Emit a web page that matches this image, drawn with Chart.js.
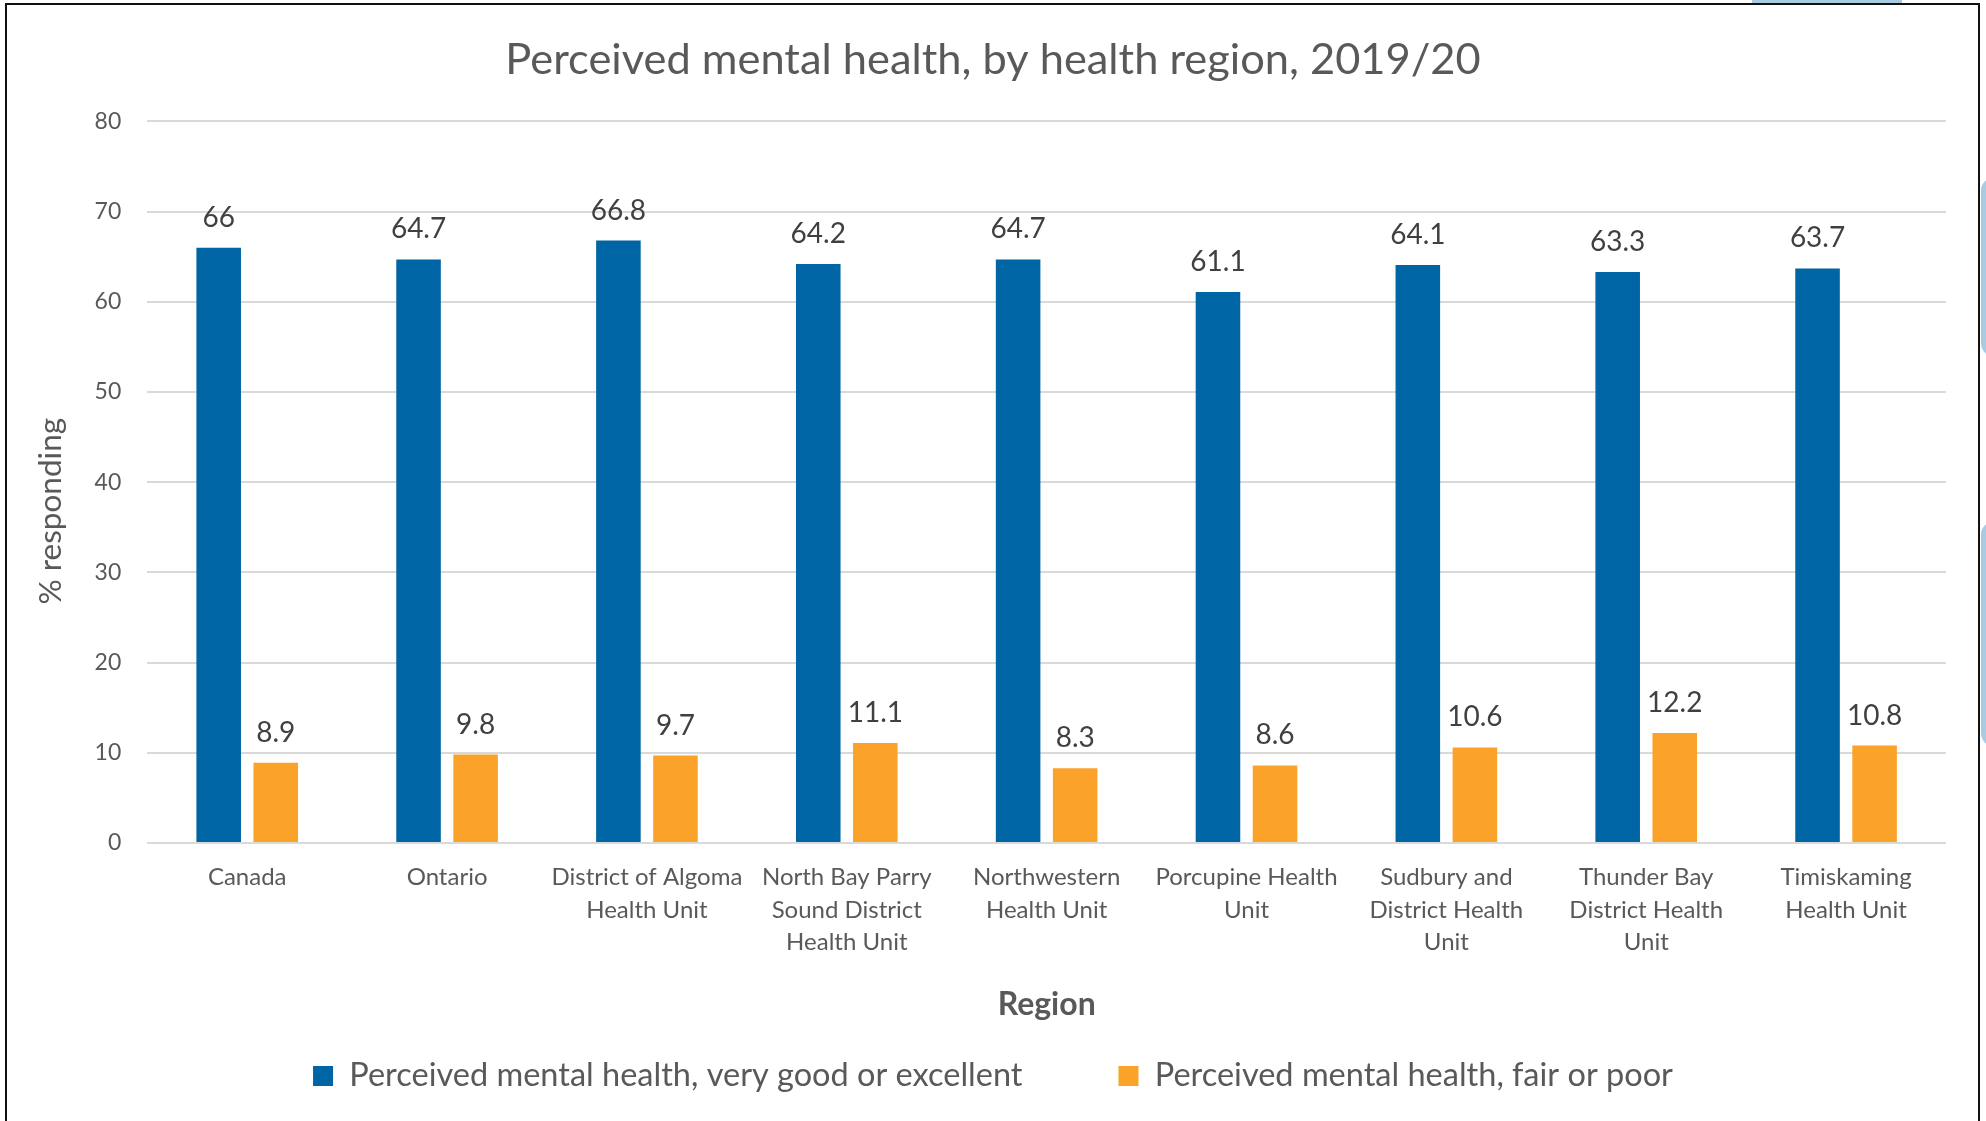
<!DOCTYPE html>
<html>
<head>
<meta charset="utf-8">
<script src="https://cdn.jsdelivr.net/npm/chart.js@4.4.1/dist/chart.umd.min.js"></script>
<style>
  html, body { margin: 0; padding: 0; background: #ffffff; overflow: hidden; }
  #wrap { position: relative; width: 1986px; height: 1121px; }
  #c { position: absolute; left: 0; top: 0; }
  .frame { position: absolute; left: 5px; top: 3px; width: 1971px; height: 1200px; border: 2px solid #111; pointer-events: none; }
  .deco { position: absolute; background: #A9CBE2; }
</style>
</head>
<body>
<div id="wrap">
  <div class="deco" style="left:1752px; top:0; width:150px; height:5px;"></div>
  <div class="deco" style="left:1981px; top:177px; width:20px; height:180px; border-radius:14px 0 0 14px;"></div>
  <div class="deco" style="left:1981px; top:521px; width:20px; height:226px; border-radius:14px 0 0 14px;"></div>
  <canvas id="c" width="1986" height="1121"></canvas>
  <div class="frame"></div>
</div>
<script>
const chartTitle = 'Perceived mental health, by health region, 2019/20';
const yAxisTitle = '% responding';
const xAxisTitle = 'Region';
const categories = [
  ['Canada'],
  ['Ontario'],
  ['District of Algoma', 'Health Unit'],
  ['North Bay Parry', 'Sound District', 'Health Unit'],
  ['Northwestern', 'Health Unit'],
  ['Porcupine Health', 'Unit'],
  ['Sudbury and', 'District Health', 'Unit'],
  ['Thunder Bay', 'District Health', 'Unit'],
  ['Timiskaming', 'Health Unit']
];
const seriesNames = [
  'Perceived mental health, very good or excellent',
  'Perceived mental health, fair or poor'
];
const veryGoodExcellent = [66, 64.7, 66.8, 64.2, 64.7, 61.1, 64.1, 63.3, 63.7];
const fairPoor = [8.9, 9.8, 9.7, 11.1, 8.3, 8.6, 10.6, 12.2, 10.8];
const yTicks = [0, 10, 20, 30, 40, 50, 60, 70, 80];

const FONT = 'Lato';
const GREY = '#595959';

const valueLabels = {
  id: 'valueLabels',
  afterDatasetsDraw(chart) {
    const ctx = chart.ctx;
    ctx.save();
    ctx.font = '28px ' + FONT;
    ctx.fillStyle = '#404040';
    ctx.textAlign = 'center';
    ctx.textBaseline = 'alphabetic';
    chart.data.datasets.forEach((ds, di) => {
      const meta = chart.getDatasetMeta(di);
      meta.data.forEach((bar, i) => {
        ctx.fillText(String(ds.data[i]), bar.x, bar.y - 21);
      });
    });
    ctx.restore();
  }
};

// y-axis title, placed as in the reference (slightly below the axis middle)
const yTitle = {
  id: 'yTitle',
  afterDraw(chart) {
    const ctx = chart.ctx;
    const ys = chart.scales.y;
    const ca = chart.chartArea;
    ctx.save();
    ctx.font = '31.5px ' + FONT;
    ctx.fillStyle = GREY;
    ctx.textAlign = 'center';
    ctx.textBaseline = 'middle';
    ctx.translate(ys.left + 51, (ca.top + ca.bottom) / 2 + 29);
    ctx.rotate(-Math.PI / 2);
    ctx.fillText(yAxisTitle, 0, 0);
    ctx.restore();
  }
};

function draw() {
  Chart.defaults.font.family = FONT;
  Chart.defaults.color = GREY;
  new Chart(document.getElementById('c'), {
    type: 'bar',
    data: {
      labels: categories,
      datasets: [
        { label: seriesNames[0], data: veryGoodExcellent, backgroundColor: '#0065A4', borderWidth: 0,
          categoryPercentage: 0.571, barPercentage: 0.781 },
        { label: seriesNames[1], data: fairPoor, backgroundColor: '#FAA229', borderWidth: 0,
          categoryPercentage: 0.571, barPercentage: 0.781 }
      ]
    },
    options: {
      responsive: false,
      animation: false,
      devicePixelRatio: 1,
      layout: { padding: { left: 0, right: 0, top: 0, bottom: 18.75 } },
      plugins: {
        title: {
          display: true, text: chartTitle, color: GREY,
          font: { size: 43.4, weight: 'normal', family: FONT, lineHeight: 1.2 },
          padding: { top: 34, bottom: 35.4 }
        },
        legend: {
          position: 'bottom',
          labels: {
            color: GREY, font: { size: 32.5, family: FONT },
            boxWidth: 20, boxHeight: 20, padding: 96
          }
        },
        tooltip: { enabled: false }
      },
      scales: {
        x: {
          grid: { display: false },
          border: { display: false },
          ticks: {
            color: GREY, font: { size: 24, family: FONT, lineHeight: 1.354 },
            padding: 10.5, autoSkip: false, maxRotation: 0, minRotation: 0
          },
          title: {
            display: true, text: xAxisTitle, color: GREY,
            font: { size: 32, weight: 'bold', family: FONT, lineHeight: 1.2 },
            padding: { top: 0, bottom: -60.45 }
          },
          afterFit(s) { s.height = 120.75; }
        },
        y: {
          min: 0, max: 80,
          grid: { color: '#D9D9D9', lineWidth: 2, drawTicks: false },
          border: { display: false },
          afterBuildTicks(s) { s.ticks = yTicks.map(v => ({ value: v })); },
          ticks: { color: GREY, font: { size: 23, family: FONT }, padding: 26 },
          title: { display: false, text: yAxisTitle },
          afterFit(s) { s.width = 147.3; }
        },
        yR: {
          type: 'linear', position: 'right', display: true,
          grid: { display: false }, border: { display: false },
          ticks: { display: false },
          afterFit(s) { s.width = 40; }
        }
      }
    },
    plugins: [valueLabels, yTitle]
  });
}

if (document.fonts && document.fonts.load) {
  Promise.all([
    document.fonts.load('28px Lato'),
    document.fonts.load('bold 32px Lato')
  ]).then(draw, draw);
} else {
  draw();
}
</script>
</body>
</html>
